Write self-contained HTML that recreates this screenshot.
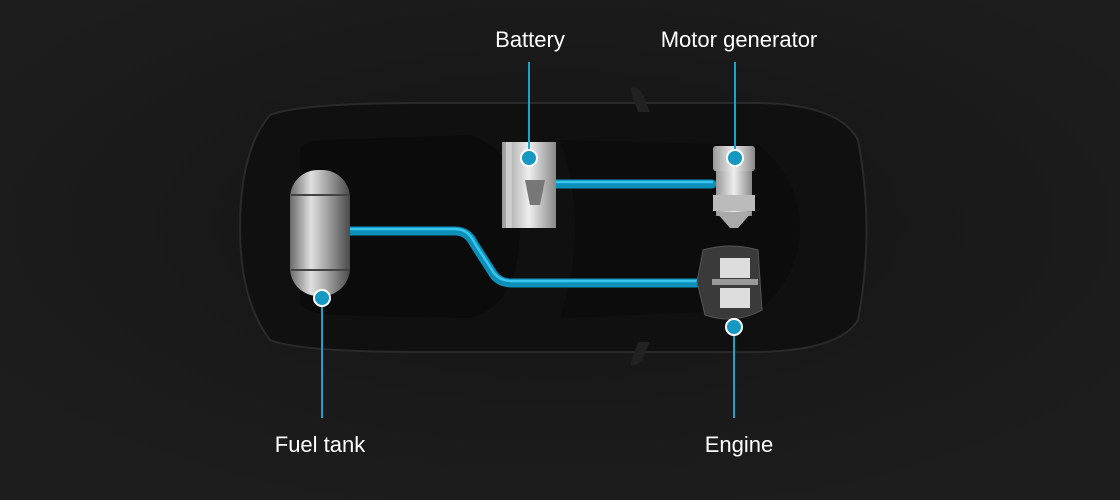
<!DOCTYPE html>
<html><head><style>
html,body{margin:0;padding:0;background:#1b1b1b;}
svg{display:block}
text{font-family:"Liberation Sans",sans-serif;font-size:22px;fill:#fff;text-anchor:middle}
</style></head><body>
<svg width="1120" height="500" viewBox="0 0 1120 500">
<defs>
<radialGradient id="bg" cx="50%" cy="45%" r="60%"><stop offset="0" stop-color="#141414"/><stop offset="1" stop-color="#1d1d1d"/></radialGradient>
<linearGradient id="tank" x1="0" x2="1"><stop offset="0" stop-color="#6a6a6a"/><stop offset="0.35" stop-color="#e0e0e0"/><stop offset="0.6" stop-color="#a8a8a8"/><stop offset="1" stop-color="#4a4a4a"/></linearGradient>
<linearGradient id="met" x1="0" x2="1"><stop offset="0" stop-color="#999"/><stop offset="0.5" stop-color="#eee"/><stop offset="1" stop-color="#888"/></linearGradient>
</defs>
<rect width="1120" height="500" fill="url(#bg)"/>
<path d="M270 115 Q300 103 420 103 L760 103 Q840 105 858 140 Q875 230 858 320 Q840 350 760 352 L420 352 Q300 352 270 340 Q240 300 240 228 Q240 150 270 115 Z" fill="#101010" stroke="#2a2a2a" stroke-width="2"/>
<path d="M300 150 Q300 140 330 140 L470 135 Q520 150 520 228 Q520 305 470 318 L330 315 Q300 312 300 300 Z" fill="#0b0b0b"/>
<path d="M560 140 L760 145 Q800 180 800 228 Q800 275 760 310 L560 318 Q590 228 560 140Z" fill="#0c0c0c"/>
<path d="M630 88 Q640 85 645 100 L650 112 L638 112 Z" fill="#222"/>
<path d="M630 365 Q640 368 645 352 L650 342 L638 342 Z" fill="#222"/>
<g fill="none" stroke-linecap="round">
<path d="M350 231 L455 231 Q468 231 474 244 L492 272 Q498 283 512 283 L698 283" stroke="#0c8fb8" stroke-width="9"/>
<path d="M350 229 L455 229 Q468 229 474 242 L492 270 Q498 281 512 281 L698 281" stroke="#39c6ee" stroke-width="2.5"/>
<path d="M555 184 L712 184" stroke="#0c8fb8" stroke-width="9"/>
<path d="M555 182 L712 182" stroke="#39c6ee" stroke-width="2.5"/>
</g>
<rect x="290" y="170" width="60" height="126" rx="28" fill="url(#tank)"/>
<line x1="291" y1="195" x2="349" y2="195" stroke="#444" stroke-width="2"/>
<line x1="291" y1="270" x2="349" y2="270" stroke="#444" stroke-width="2"/>
<rect x="502" y="142" width="54" height="86" fill="url(#met)"/>
<rect x="506" y="142" width="6" height="86" fill="#ccc"/>
<path d="M525 180 L545 180 L540 205 L530 205 Z" fill="#777"/>
<rect x="713" y="146" width="42" height="25" rx="3" fill="url(#met)"/>
<rect x="716" y="171" width="36" height="45" fill="url(#met)"/>
<rect x="713" y="195" width="42" height="16" fill="#bbb"/>
<path d="M716 212 L752 212 L738 228 L730 228 Z" fill="#aaa"/>
<path d="M703 250 Q730 242 758 250 L762 310 Q735 325 705 315 L697 282 Z" fill="#3a3a3a" stroke="#555"/>
<rect x="720" y="258" width="30" height="20" fill="#ddd"/>
<rect x="720" y="288" width="30" height="20" fill="#ddd"/>
<rect x="712" y="279" width="46" height="6" fill="#999"/>
<g stroke="#1ba3cb" stroke-width="2">
<line x1="529" y1="62" x2="529" y2="150"/>
<line x1="735" y1="62" x2="735" y2="150"/>
<line x1="322" y1="305" x2="322" y2="418"/>
<line x1="734" y1="334" x2="734" y2="418"/>
</g>
<g fill="#1598c2" stroke="#fff" stroke-width="2">
<circle cx="529" cy="158" r="8"/>
<circle cx="735" cy="158" r="8"/>
<circle cx="322" cy="298" r="8"/>
<circle cx="734" cy="327" r="8"/>
</g>
<text x="530" y="47">Battery</text>
<text x="739" y="47">Motor generator</text>
<text x="320" y="452">Fuel tank</text>
<text x="739" y="452">Engine</text>
</svg>
</body></html>
